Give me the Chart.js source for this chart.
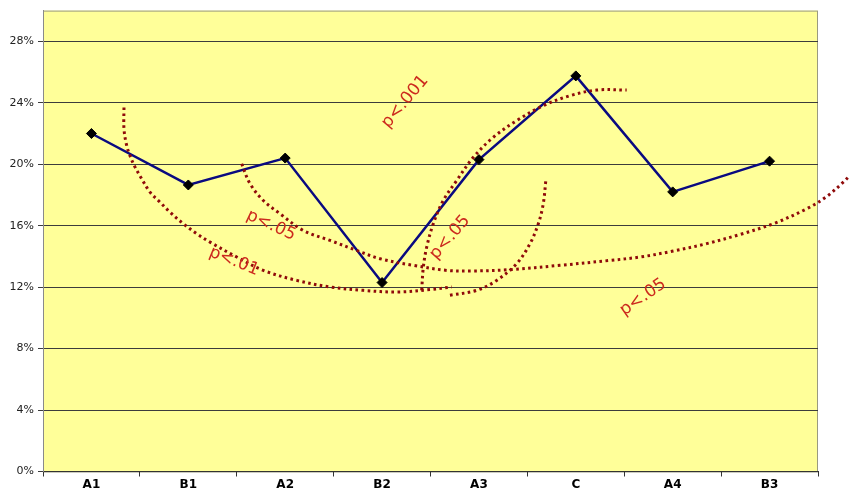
<!DOCTYPE html>
<html>
<head>
<meta charset="utf-8">
<script src="https://cdn.jsdelivr.net/npm/chart.js@4.4.1/dist/chart.umd.min.js"></script>
<style>
  html, body { margin: 0; padding: 0; background: #ffffff; }
  #wrap { width: 850px; height: 490px; position: relative; }
</style>
</head>
<body>
<div id="wrap"><canvas id="c" width="850" height="490"></canvas></div>
<script>
// Groups along the x axis and the measured rate (%) for each
const categories = ['A1', 'B1', 'A2', 'B2', 'A3', 'C', 'A4', 'B3'];
const rates = [22.0, 18.65, 20.4, 12.3, 20.3, 25.75, 18.2, 20.2];
const yTicks = [0, 4, 8, 12, 16, 20, 24, 28];

// Significance brackets, as [group position, %] pairs
const arcP01 = [[0.336, 23.70], [0.336, 22.30], [0.364, 21.21], [0.405, 20.45], [0.450, 19.81], [0.519, 19.05], [0.605, 18.18], [0.708, 17.53], [0.811, 16.88], [0.948, 16.13], [1.087, 15.48], [1.224, 14.93], [1.500, 13.96], [1.774, 13.09], [2.119, 12.44], [2.463, 12.01], [2.806, 11.79], [3.151, 11.68], [3.495, 11.84], [3.719, 12.01]];
const arcP05Long = [[1.551, 20.03], [1.637, 18.73], [1.774, 17.64], [1.946, 16.78], [2.187, 15.69], [2.463, 15.04], [2.738, 14.39], [2.979, 13.85], [3.322, 13.42], [3.667, 13.09], [3.908, 13.05], [4.321, 13.14], [4.837, 13.42], [5.353, 13.74], [5.663, 13.96], [6.006, 14.35], [6.351, 14.83], [6.695, 15.43], [7.039, 16.13], [7.383, 17.10], [7.590, 17.90], [7.761, 18.83], [7.830, 19.27]];
const arcP001 = [[3.409, 11.79], [3.426, 13.31], [3.461, 14.61], [3.529, 16.13], [3.632, 17.64], [3.770, 18.94], [3.942, 20.45], [4.148, 21.75], [4.390, 22.84], [4.664, 23.81], [4.940, 24.46], [5.216, 24.83], [5.525, 24.83]];
const arcP05Short = [[3.701, 11.47], [3.977, 11.79], [4.183, 12.44], [4.390, 13.53], [4.527, 14.83], [4.613, 16.13], [4.664, 17.43], [4.692, 19.05]];

// Bracket captions: text, group position, %, angle (degrees)
const captionText = ['p<.001', 'p<.05', 'p<.01', 'p<.05', 'p<.05'];
const captionX = [3.237, 1.854, 1.472, 3.701, 5.694];
const captionY = [24.07, 16.02, 13.68, 15.24, 11.34];
const captionAngle = [-50, 25, 22, -49, -35];

const toPoints = arr => arr.map(p => ({ x: p[0], y: p[1] }));

function arcDataset(arr) {
  return {
    type: 'line',
    data: toPoints(arr),
    xAxisID: 'xs',
    borderColor: '#8f0a0a',
    borderWidth: 3,
    borderDash: [2.6, 3.4],
    borderCapStyle: 'butt',
    pointRadius: 0,
    tension: 0.35,
    fill: false,
    clip: false,
    order: 0
  };
}

const plotFrame = {
  id: 'plotFrame',
  beforeDraw(chart) {
    const { ctx, chartArea: a } = chart;
    ctx.save();
    ctx.fillStyle = '#ffffff';
    ctx.fillRect(0, 0, chart.width, chart.height);
    ctx.fillStyle = '#ffff99';
    ctx.fillRect(a.left, a.top, a.right - a.left, a.bottom - a.top);
    ctx.strokeStyle = '#9a9a80';
    ctx.lineWidth = 1;
    ctx.strokeRect(a.left + 0.5, a.top + 0.5, a.right - a.left - 1, a.bottom - a.top);
    ctx.restore();
  }
};

const captions = {
  id: 'captions',
  afterDatasetsDraw(chart) {
    const { ctx } = chart;
    const xs = chart.scales.xs, y = chart.scales.y;
    ctx.save();
    ctx.fillStyle = '#cc2a1e';
    ctx.font = '17px "DejaVu Sans", Verdana, sans-serif';
    ctx.textAlign = 'center';
    ctx.textBaseline = 'middle';
    captionText.forEach((t, i) => {
      ctx.save();
      ctx.translate(xs.getPixelForValue(captionX[i]), y.getPixelForValue(captionY[i]));
      ctx.rotate(captionAngle[i] * Math.PI / 180);
      ctx.fillText(t, 0, 0);
      ctx.restore();
    });
    ctx.restore();
  }
};

new Chart(document.getElementById('c'), {
  type: 'line',
  data: {
    labels: categories,
    datasets: [
      {
        data: rates,
        xAxisID: 'x',
        borderColor: '#0a0a80',
        borderWidth: 2.5,
        pointStyle: 'rectRot',
        pointRadius: 5,
        pointBackgroundColor: '#000000',
        pointBorderColor: '#000000',
        pointBorderWidth: 1,
        tension: 0,
        fill: false,
        order: 1
      },
      arcDataset(arcP01),
      arcDataset(arcP05Long),
      arcDataset(arcP001),
      arcDataset(arcP05Short)
    ]
  },
  options: {
    responsive: false,
    animation: false,
    devicePixelRatio: 1,
    layout: { padding: { top: 10, right: 32, left: 0, bottom: 0 } },
    plugins: { legend: { display: false }, tooltip: { enabled: false } },
    scales: {
      x: {
        type: 'category',
        offset: true,
        afterFit(s) { s.height = 18.5; },
        grid: { offset: true, drawOnChartArea: false, drawTicks: true, tickLength: 5, color: '#333333' },
        border: { display: true, color: '#333333', width: 1 },
        ticks: { color: '#000000', padding: 1, font: { family: '"DejaVu Sans", Verdana, sans-serif', size: 12, weight: 'bold' } }
      },
      xs: {
        type: 'linear',
        display: false,
        bounds: 'data',
        grace: 0,
        // same span as the category axis: one unit per group, half a unit of margin each side
        afterDataLimits(s) { s.min = -0.5; s.max = 7.5; }
      },
      y: {
        min: 0,
        max: 30,
        afterFit(s) { s.width = 43; },
        afterBuildTicks(s) { s.ticks = yTicks.map(v => ({ value: v })); },
        grid: { color: '#3c3c3c', lineWidth: 1, drawTicks: true, tickLength: 5 },
        border: { display: true, color: '#8a8a8a', width: 1 },
        ticks: {
          color: '#222222',
          padding: 4,
          font: { family: '"DejaVu Sans", Verdana, sans-serif', size: 11 },
          callback: v => v + '%'
        }
      }
    }
  },
  plugins: [plotFrame, captions]
});
</script>
</body>
</html>
